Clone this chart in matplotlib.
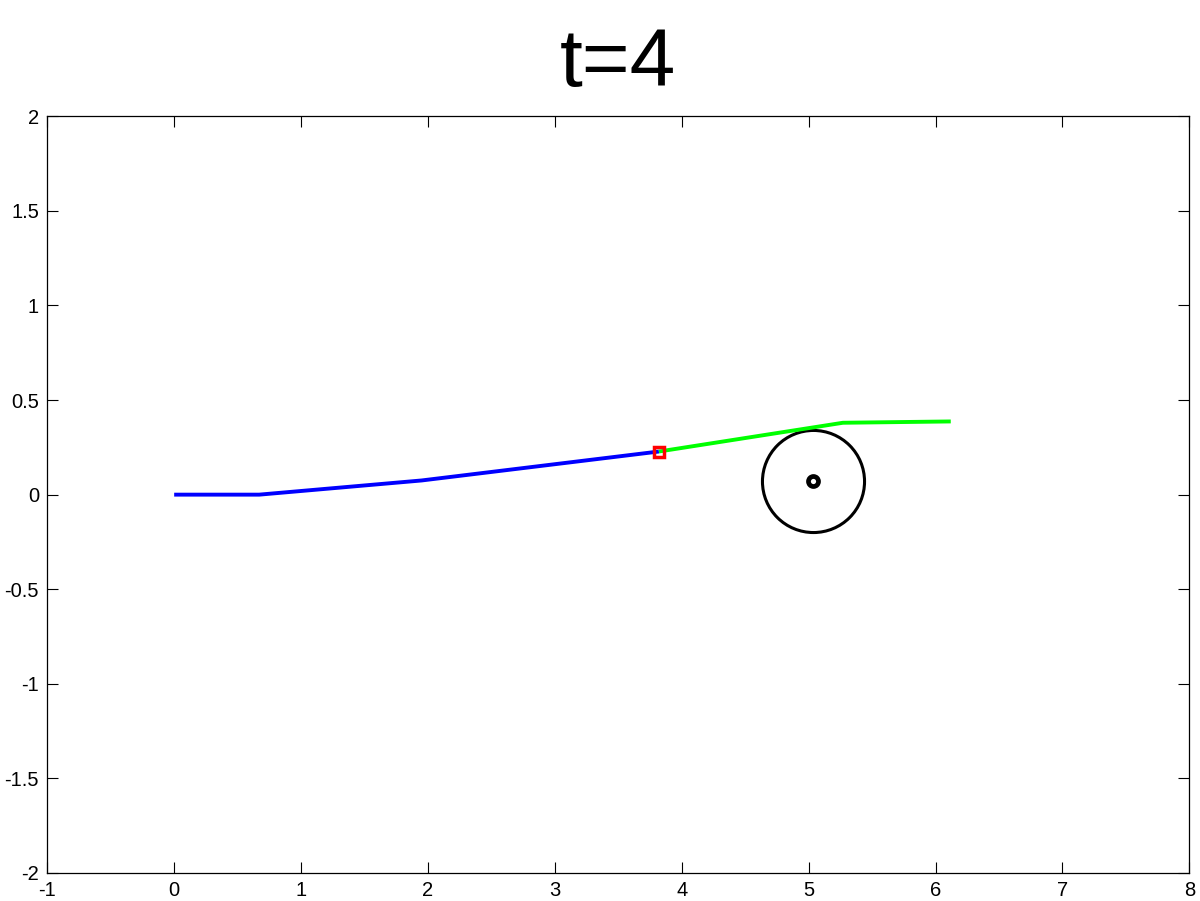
import matplotlib
matplotlib.use("Agg")
import matplotlib.pyplot as plt

# Data
title_text = "t=4"
blue_x = [0.0, 0.67, 1.95, 3.82]
blue_y = [0.0, 0.0, 0.075, 0.228]
green_x = [3.82, 5.27, 6.12]
green_y = [0.228, 0.38, 0.387]
current_x = [3.82]
current_y = [0.228]
obstacle_x = [5.035]
obstacle_y = [0.073]
xticks = [-1, 0, 1, 2, 3, 4, 5, 6, 7, 8]
yticks = [-2, -1.5, -1, -0.5, 0, 0.5, 1, 1.5, 2]
ytick_labels = ["-2", "-1.5", "-1", "-0.5", "0", "0.5", "1", "1.5", "2"]

plt.rcParams['font.family'] = ['Liberation Sans', 'DejaVu Sans']

fig = plt.figure(figsize=(12, 9.01), dpi=100)
ax = fig.add_axes([0.0394, 0.0311, 0.9517, 0.8398])

ax.plot(obstacle_x, obstacle_y, marker='o', markersize=73.5, markerfacecolor='none',
        markeredgecolor='black', markeredgewidth=2.2, linestyle='none', zorder=2)
ax.plot(obstacle_x, obstacle_y, marker='o', markersize=7.2, markerfacecolor='none',
        markeredgecolor='black', markeredgewidth=3.4, linestyle='none', zorder=2)
ax.plot(blue_x, blue_y, color='#0000ff', linewidth=2.8, solid_capstyle='butt', zorder=3)
ax.plot(green_x, green_y, color='#00ff00', linewidth=2.8, solid_capstyle='butt', zorder=3)
ax.plot(current_x, current_y, marker='s', markersize=7.5, markerfacecolor='none',
        markeredgecolor='#ff0000', markeredgewidth=2.5, linestyle='none', zorder=4)

ax.set_xlim(-1, 8)
ax.set_ylim(-2, 2)
ax.set_xticks(xticks)
ax.set_xticklabels([str(v) for v in xticks])
ax.set_yticks(yticks)
ax.set_yticklabels(ytick_labels)
ax.tick_params(direction='in', length=8, width=0.8, top=True, right=True,
               labelsize=14.5, pad=6, colors='black')
for s in ax.spines.values():
    s.set_linewidth(0.9)

ax.set_title(title_text, fontsize=59, pad=22)

fig.savefig("out.png", dpi=100, facecolor='white')
